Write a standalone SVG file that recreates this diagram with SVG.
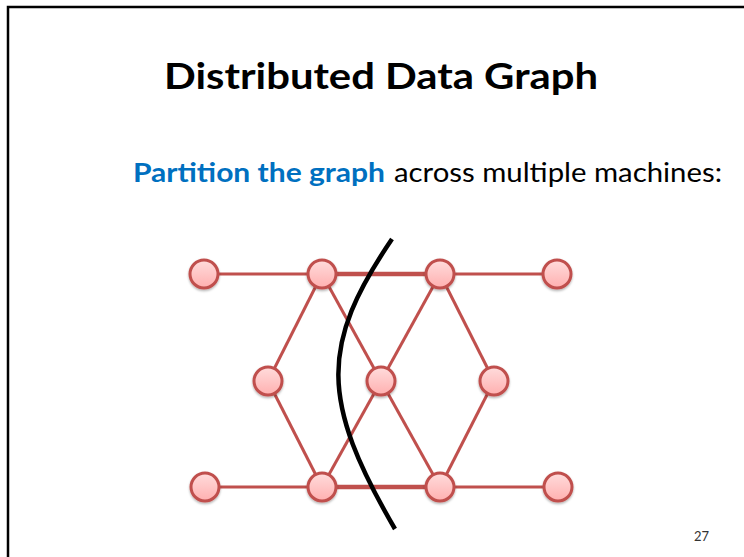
<svg xmlns="http://www.w3.org/2000/svg" width="744" height="557" viewBox="0 0 744 557">
  <defs>
    <linearGradient id="nodeFill" x1="0" y1="0" x2="0" y2="1">
      <stop offset="0" stop-color="#ffdcdc"/>
      <stop offset="1" stop-color="#ffb0b0"/>
    </linearGradient>
    <filter id="soft" x="-30%" y="-30%" width="160%" height="170%">
      <feDropShadow dx="0" dy="1.5" stdDeviation="1.2" flood-color="#000" flood-opacity="0.3"/>
    </filter>
  </defs>
  <style>
    .node circle { fill: url(#nodeFill); stroke: #c0504d; stroke-width: 3; filter: url(#soft); }
    .edge { stroke: #c0504d; stroke-width: 3; fill: none; }
    .edge.wide { stroke-width: 4.5; }
    .cut { stroke: #000; stroke-width: 4.5; fill: none; stroke-linecap: butt; }
    .title { font-family: Lato, "Liberation Sans", sans-serif; font-weight: bold; font-size: 36px; fill: #000; }
    .body { font-family: Lato, "Liberation Sans", sans-serif; font-size: 27px; fill: #000; }
    .em { font-weight: bold; fill: #0070c0; }
    .pageno { font-family: Lato, "Liberation Sans", sans-serif; font-size: 13px; fill: #333; }
  </style>

  <rect x="0" y="0" width="744" height="557" fill="#fff"/>
  <!-- slide frame -->
  <path d="M8 560 V7 H750" fill="none" stroke="#000" stroke-width="2.5"/>

  <text class="title" x="164" y="89" textLength="434" lengthAdjust="spacingAndGlyphs">Distributed Data Graph</text>
  <text class="body em" x="133" y="182" textLength="252" lengthAdjust="spacingAndGlyphs">Partition the graph</text>
  <text class="body" x="394" y="182" textLength="328" lengthAdjust="spacingAndGlyphs">across multiple machines:</text>

  <g id="edges">
    <line class="edge" x1="204" y1="274" x2="322" y2="274"/>
    <line class="edge wide" x1="322" y1="274" x2="440" y2="274"/>
    <line class="edge" x1="440" y1="274" x2="557" y2="274"/>
    <line class="edge" x1="205" y1="487" x2="322" y2="487"/>
    <line class="edge wide" x1="322" y1="487" x2="440" y2="487"/>
    <line class="edge" x1="440" y1="487" x2="558" y2="487"/>
    <line class="edge" x1="322" y1="274" x2="268" y2="381"/>
    <line class="edge" x1="322" y1="274" x2="381" y2="381"/>
    <line class="edge" x1="440" y1="274" x2="381" y2="381"/>
    <line class="edge" x1="440" y1="274" x2="494" y2="381"/>
    <line class="edge" x1="268" y1="381" x2="322" y2="487"/>
    <line class="edge" x1="381" y1="381" x2="322" y2="487"/>
    <line class="edge" x1="381" y1="381" x2="440" y2="487"/>
    <line class="edge" x1="494" y1="381" x2="440" y2="487"/>
  </g>

  <g id="n1" class="node"><circle cx="204" cy="274" r="14"/></g>
  <g id="n2" class="node"><circle cx="322" cy="274" r="14"/></g>
  <g id="n3" class="node"><circle cx="440" cy="274" r="14"/></g>
  <g id="n4" class="node"><circle cx="557" cy="274" r="14"/></g>
  <g id="n5" class="node"><circle cx="268" cy="381" r="14"/></g>
  <g id="n6" class="node"><circle cx="381" cy="381" r="14"/></g>
  <g id="n7" class="node"><circle cx="494" cy="381" r="14"/></g>
  <g id="n8" class="node"><circle cx="205" cy="487" r="14"/></g>
  <g id="n9" class="node"><circle cx="322" cy="487" r="14"/></g>
  <g id="n10" class="node"><circle cx="440" cy="487" r="14"/></g>
  <g id="n11" class="node"><circle cx="558" cy="487" r="14"/></g>

  <!-- partition cut -->
  <path class="cut" d="M392 239 C 320 345, 320 400, 395 529"/>

  <text class="pageno" x="694" y="541">27</text>
</svg>
